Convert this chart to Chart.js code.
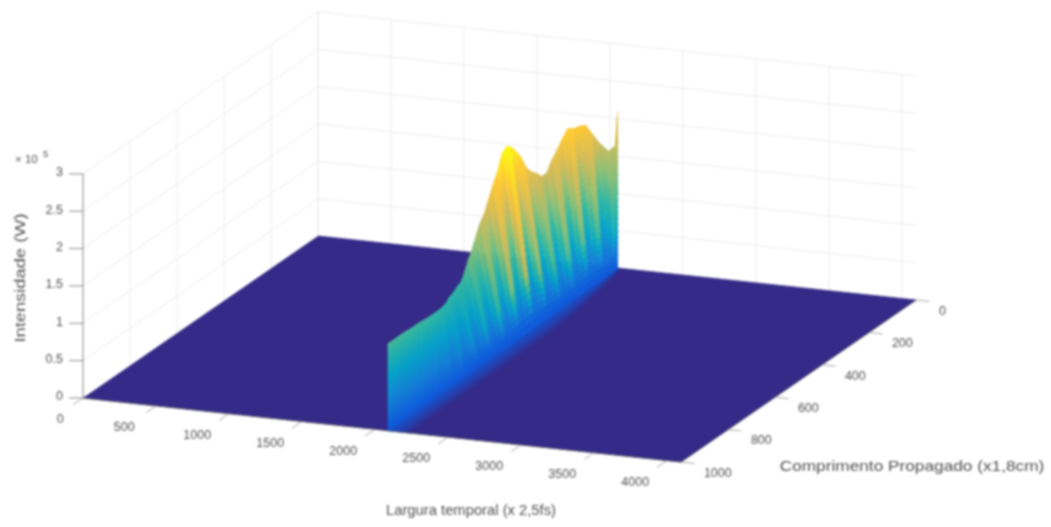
<!DOCTYPE html>
<html>
<head>
<meta charset="utf-8">
<script src="https://cdn.jsdelivr.net/npm/chart.js@4"></script>
<style>
  html, body { margin: 0; background: #fff; }
  #caixa { width: 1051px; height: 527px; }
  #grafico { filter: blur(0.9px); }
</style>
</head>
<body>
<div id="caixa"><canvas id="grafico"></canvas></div>
<script>
// Rotulos dos eixos
const ticksTempo = [0, 500, 1000, 1500, 2000, 2500, 3000, 3500, 4000];
const ticksComprimento = [0, 200, 400, 600, 800, 1000];
const ticksIntensidade = [0, 0.5, 1, 1.5, 2, 2.5, 3];
const rotulosIntensidade = ['0', '0.5', '1', '1.5', '2', '2.5', '3'];

// Fatias da superficie
const comprimento = [0, 6, 20, 40, 60, 80, 100, 120, 140, 160, 180, 200, 220, 240, 260, 280, 300, 320, 340, 360, 380, 400, 420, 440, 460, 480, 500, 520, 540, 560, 580, 600, 620, 640, 660, 680, 700, 720, 740, 760, 780, 800, 820, 840, 860, 880, 900, 920, 940, 960, 980, 1000];
const intensidadePico = [2.10, 1.65, 1.60, 1.75, 1.91, 2.07, 2.09, 2.10, 2.15, 2.05, 1.94, 1.86, 1.73, 1.72, 1.80, 1.87, 1.97, 2.15, 2.27, 2.37, 2.42, 2.37, 2.17, 2.03, 1.88, 1.73, 1.64, 1.50, 1.38, 1.28, 1.16, 1.09, 1.08, 1.06, 1.05, 1.06, 1.06, 1.06, 1.07, 1.08, 1.09, 1.10, 1.11, 1.12, 1.13, 1.135, 1.14, 1.15, 1.155, 1.16, 1.16, 1.165];
const tempoBase = [2055, 2055, 2056, 2056, 2057, 2058, 2058, 2059, 2060, 2060, 2061, 2062, 2062, 2063, 2064, 2065, 2065, 2066, 2067, 2067, 2068, 2069, 2069, 2070, 2071, 2071, 2072, 2073, 2073, 2074, 2075, 2075, 2076, 2077, 2077, 2078, 2079, 2079, 2080, 2081, 2082, 2082, 2083, 2084, 2084, 2085, 2086, 2086, 2087, 2088, 2088, 2089];
const larguraPulso = [3, 10, 34, 65, 82, 96, 110, 120, 123, 130, 134, 137, 140, 144, 147, 154, 158, 161, 164, 164, 164, 164, 164, 164, 164, 161, 161, 158, 151, 147, 140, 130, 123, 113, 103, 89, 68, 55, 41, 34, 27, 21, 17, 15, 14, 10, 8, 7, 5, 3, 2, 0];
const larguraCauda = [12, 18, 30, 45, 55, 65, 75, 82, 90, 97, 104, 110, 116, 122, 127, 132, 137, 141, 145, 148, 150, 150, 150, 150, 150, 150, 150, 150, 150, 150, 150, 150, 150, 150, 150, 150, 150, 150, 150, 150, 150, 150, 150, 150, 150, 150, 150, 150, 150, 150, 150, 150];
// expoente de cor de cada faixa: baixo = faixa clara, 1 = sem ondulacao
const ondulacao = [0.8, 0.55, 0.8, 0.95, 0.5, 0.72, 0.95, 0.45, 0.7, 0.95, 0.42, 0.68, 0.95, 0.42, 0.68, 0.95, 0.38, 0.65, 0.92, 0.35, 0.62, 0.9, 0.38, 0.65, 0.9, 0.42, 0.7, 0.92, 0.5, 0.75, 0.95, 0.6, 0.82, 0.98, 0.72, 0.88, 1.0, 0.85, 0.95, 1.0, 0.95, 1.0, 1.0, 1.0, 1.0, 1.0, 1.0, 1.0, 1.0, 1.0, 1.0, 1.0];

// Forma do pulso: fracao do pico, de cima para baixo
const niveis = [1, 0.96, 0.92, 0.88, 0.84, 0.8, 0.76, 0.72, 0.68, 0.64, 0.6, 0.56, 0.52, 0.48, 0.44, 0.4, 0.36, 0.32, 0.28, 0.24, 0.2, 0.16, 0.12, 0.08, 0.04, 0];
const niveisCauda = [0, 0.15, 0.3, 0.5, 0.7, 0.85, 1];
const corCauda = [0.10, 0.085, 0.07, 0.05, 0.03, 0.012];

// Paleta parula
const parula = [[53, 42, 135], [15, 92, 221], [20, 129, 214], [6, 164, 202], [46, 183, 164], [135, 191, 119], [209, 187, 89], [254, 200, 50], [249, 251, 14]];

const tempoMax = 4096, compMax = 1000, intensMax = 3;
const maxPico = Math.max(...intensidadePico);

// projecao ortografica do grafico 3D
function projetar(t, c, z) {
    return {
        x: 318 + 598 * t / tempoMax - 235 * c / compMax,
        y: 236 + 64 * t / tempoMax + 162 * c / compMax - 74.7 * z
    };
}

function corParula(v) {
    const p = Math.min(0.9999, Math.max(0, v)) * (parula.length - 1);
    const i = Math.floor(p), f = p - i;
    const a = parula[i], b = parula[i + 1];
    return `rgb(${a.map((n, j) => Math.round(n + (b[j] - n) * f)).join(',')})`;
}

const conjuntos = [];

function poligono(pontos, cor) {
    conjuntos.push({ data: pontos, showLine: true, fill: 'shape', backgroundColor: cor, borderColor: cor, borderWidth: 0.7, pointRadius: 0 });
}
function linha(pontos, cor, largura) {
    conjuntos.push({ data: pontos, showLine: true, fill: false, borderColor: cor, borderWidth: largura, pointRadius: 0 });
}

// grade das paredes
const corGrade = '#ececec';
ticksIntensidade.forEach(z => {
    linha([projetar(0, compMax, z), projetar(0, 0, z), projetar(tempoMax, 0, z)], corGrade, 1);
});
ticksTempo.forEach(t => linha([projetar(t, 0, 0), projetar(t, 0, intensMax)], corGrade, 1));
ticksComprimento.forEach(c => linha([projetar(0, c, 0), projetar(0, c, intensMax)], corGrade, 1));

// piso
poligono([projetar(0, 0, 0), projetar(tempoMax, 0, 0), projetar(tempoMax, compMax, 0), projetar(0, compMax, 0)], corParula(0));

// cauda de baixa intensidade sobre o piso
for (let k = 0; k < comprimento.length - 1; k++) {
    for (let i = 0; i < niveisCauda.length - 1; i++) {
        poligono([
            projetar(tempoBase[k] + larguraCauda[k] * niveisCauda[i], comprimento[k], 0),
            projetar(tempoBase[k] + larguraCauda[k] * niveisCauda[i + 1], comprimento[k], 0),
            projetar(tempoBase[k + 1] + larguraCauda[k + 1] * niveisCauda[i + 1], comprimento[k + 1], 0),
            projetar(tempoBase[k + 1] + larguraCauda[k + 1] * niveisCauda[i], comprimento[k + 1], 0)
        ], corParula(corCauda[i]));
    }
}

// parede do pulso, de tras para a frente
function pontoPulso(k, f) {
    return projetar(tempoBase[k] - larguraPulso[k] * f, comprimento[k], intensidadePico[k] * f);
}
function corFaixa(k, f) {
    const topo = (intensidadePico[k] + intensidadePico[k + 1]) / 2 / maxPico;
    const linear = topo * f;
    const quente = topo * Math.pow(f, ondulacao[k]);
    // perto do piso todas as faixas ficam azuis
    const s = Math.min(1, Math.max(0, (f - 0.05) / 0.25));
    const c = linear + (quente - linear) * s;
    return corParula(c + 0.11 * (1 - c));
}
for (let k = 0; k < comprimento.length - 1; k++) {
    for (let i = niveis.length - 2; i >= 0; i--) {
        poligono([pontoPulso(k, niveis[i + 1]), pontoPulso(k + 1, niveis[i + 1]), pontoPulso(k + 1, niveis[i]), pontoPulso(k, niveis[i])],
            corFaixa(k, (niveis[i] + niveis[i + 1]) / 2));
    }
}

// eixos
const corEixo = '#8a8a8a', corTick = '#a8a8a8';
linha([projetar(0, compMax, 0), projetar(0, compMax, intensMax)], corEixo, 1);
linha([projetar(0, compMax, 0), projetar(tempoMax, compMax, 0)], '#555', 0.7);
linha([projetar(tempoMax, compMax, 0), projetar(tempoMax, 0, 0)], '#555', 0.7);
ticksIntensidade.forEach(z => {
    const p = projetar(0, compMax, z);
    linha([p, { x: p.x - 14, y: p.y }], corEixo, 1);
});
ticksTempo.forEach(t => linha([projetar(t, compMax, 0), projetar(t, compMax + 42, 0)], corTick, 1));
ticksComprimento.forEach(c => linha([projetar(tempoMax, c, 0), projetar(tempoMax + 92, c, 0)], corTick, 1));

// textos dos eixos
const textos = {
    id: 'textos',
    afterDraw(chart) {
        const { ctx, scales: { x, y } } = chart;
        const escrever = (txt, p, alinha, fonte) => {
            ctx.textAlign = alinha;
            ctx.font = fonte;
            ctx.fillText(txt, x.getPixelForValue(p.x), y.getPixelForValue(p.y));
        };
        // titulo esticado ao longo do texto, como na figura
        const titulo = (txt, px, py, angulo, esticar) => {
            ctx.save();
            ctx.translate(x.getPixelForValue(px), y.getPixelForValue(py));
            ctx.rotate(angulo);
            ctx.scale(esticar, 1);
            ctx.textAlign = 'center';
            ctx.font = '15px "Liberation Sans"';
            ctx.fillText(txt, 0, 0);
            ctx.restore();
        };
        ctx.save();
        ctx.fillStyle = '#505050';
        ctx.textBaseline = 'middle';
        const fonteTick = '12.5px "Liberation Sans"';
        ticksTempo.forEach(t => {
            const p = projetar(t, compMax + 135, 0);
            if (t === 0) p.x += 9;
            escrever(String(t), p, 'center', fonteTick);
        });
        ticksComprimento.forEach(c => escrever(String(c), projetar(tempoMax + 157, c, -0.12), 'left', fonteTick));
        ticksIntensidade.forEach((z, i) => {
            const p = projetar(0, compMax, z);
            escrever(rotulosIntensidade[i], { x: p.x - 20, y: p.y - 1 }, 'right', fonteTick);
        });
        escrever('× 10', { x: 15, y: 160 }, 'left', '11.5px "Liberation Sans"');
        escrever('5', { x: 43, y: 154 }, 'left', '9.5px "Liberation Sans"');
        titulo('Largura temporal (x 2,5fs)', 471, 511, 0, 0.985);
        titulo('Comprimento Propagado (x1,8cm)', 912, 467, 0, 1.15);
        titulo('Intensidade (W)', 21, 278, -Math.PI / 2, 1.22);
        ctx.restore();
    }
};

// o primeiro conjunto fica por cima no Chart.js, por isso inverte
conjuntos.reverse();

new Chart(document.getElementById('grafico').getContext('2d'), {
    type: 'scatter',
    data: { datasets: conjuntos },
    options: {
        responsive: true,
        maintainAspectRatio: false,
        animation: false,
        events: [],
        layout: { padding: 0 },
        plugins: { legend: { display: false }, tooltip: { enabled: false } },
        scales: {
            x: { type: 'linear', min: 0, max: 1051, display: false },
            y: { type: 'linear', min: 0, max: 527, reverse: true, display: false }
        }
    },
    plugins: [textos]
});
</script>
</body>
</html>
